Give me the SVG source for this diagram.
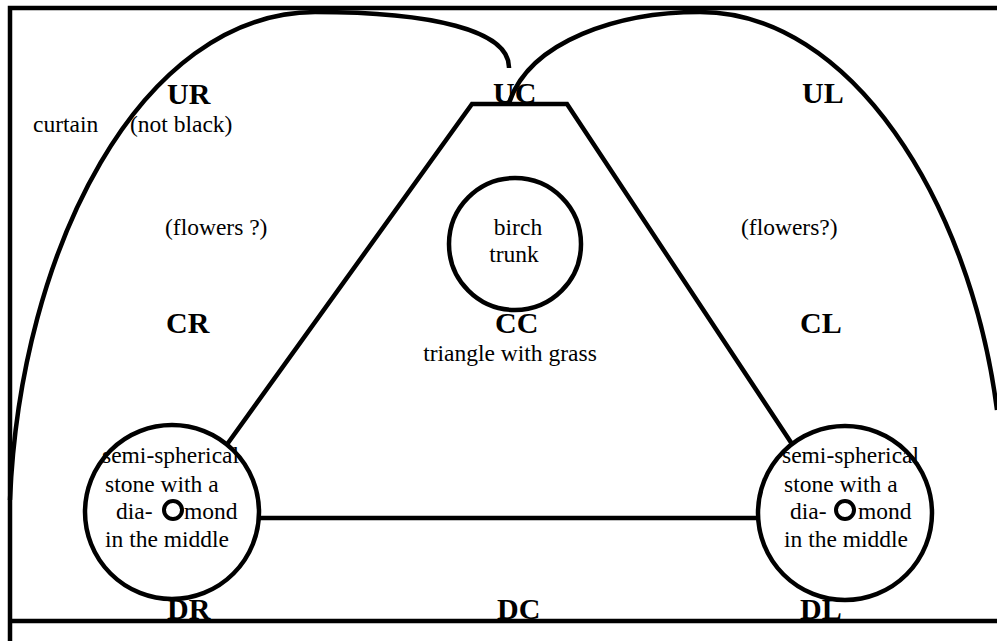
<svg xmlns="http://www.w3.org/2000/svg" width="997" height="641" viewBox="0 0 997 641">
<style>
.ln{fill:none;stroke:#000;stroke-width:4.5;stroke-linecap:butt;stroke-linejoin:miter}
.c{fill:#fff;stroke:#000;stroke-width:4.5}
.d{fill:#fff;stroke:#000;stroke-width:4}
text{font-family:"Liberation Serif","Times New Roman",serif;fill:#000}
.b{font-size:30px;font-weight:bold}
.t{font-size:23.5px}
</style>
<rect width="997" height="641" fill="#fff"/>
<g id="frame">
<path class="ln" d="M997,8 H10 V641"/>
<path class="ln" d="M10,621 H997"/>
</g>
<g id="connectors">
<path id="curtain-left" class="ln" d="M10,500 C20,250 140,13 315,12 C430,12 510,30 509,68"/>
<path id="curtain-right" class="ln" d="M509,103 C530,40 620,12 700,12 C850,12 970,200 997,410"/>
<path id="triangle" class="ln" d="M223,450 L472,104 L567,104 L796,450"/>
<path id="base" class="ln" d="M260,518 H760"/>
</g>
<g id="birch">
<circle class="c" cx="515" cy="244" r="66"/>
<text class="t" x="518" y="235" text-anchor="middle">birch</text>
<text class="t" x="514" y="262" text-anchor="middle">trunk</text>
</g>
<g id="stone-right-side">
<circle class="c" cx="172" cy="512" r="87"/>
<text class="t" x="102" y="463">semi-spherical</text>
<text class="t" x="105" y="492">stone with a</text>
<text class="t"><tspan x="116" y="519">dia-</tspan><tspan x="184" y="519">mond</tspan></text>
<text class="t" x="105" y="547">in the middle</text>
<circle class="d" cx="173" cy="510" r="9"/>
</g>
<g id="stone-left-side">
<circle class="c" cx="845" cy="513" r="87"/>
<text class="t" x="782" y="463">semi-spherical</text>
<text class="t" x="784" y="492">stone with a</text>
<text class="t"><tspan x="790" y="519">dia-</tspan><tspan x="858" y="519">mond</tspan></text>
<text class="t" x="784" y="547">in the middle</text>
<circle class="d" cx="845" cy="510" r="9"/>
</g>
<g id="labels">
<text class="b" x="167" y="104">UR</text>
<text class="b" x="493" y="103">UC</text>
<text class="b" x="802" y="103">UL</text>
<text class="b" x="166" y="333">CR</text>
<text class="b" x="495" y="333">CC</text>
<text class="b" x="800" y="333">CL</text>
<text class="b" x="167" y="619">DR</text>
<text class="b" x="497" y="619">DC</text>
<text class="b" x="800" y="619">DL</text>
<text class="t" x="33" y="132">curtain</text>
<text class="t" x="130" y="132">(not black)</text>
<text class="t" x="165" y="235">(flowers ?)</text>
<text class="t" x="741" y="235">(flowers?)</text>
<text class="t" x="510" y="361" text-anchor="middle">triangle with grass</text>
</g>
</svg>
